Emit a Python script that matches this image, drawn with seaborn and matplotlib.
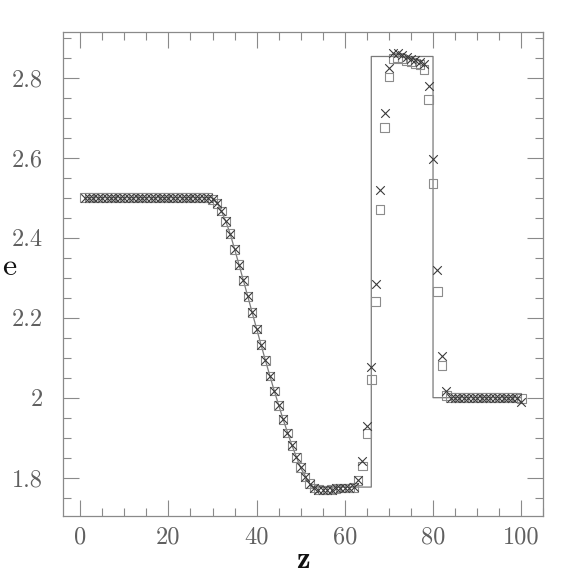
import matplotlib
matplotlib.use("Agg")
import matplotlib.pyplot as plt
import seaborn as sns
import pandas as pd
from matplotlib.ticker import MultipleLocator, FuncFormatter

# ---- data ----
z_points = list(range(1, 101))

e_cross = [
    2.5, 2.5, 2.5, 2.5, 2.5, 2.5, 2.5, 2.5, 2.5, 2.5,
    2.5, 2.5, 2.5, 2.5, 2.5, 2.5, 2.5, 2.5, 2.5, 2.5,
    2.5, 2.5, 2.5, 2.5, 2.5, 2.5, 2.5, 2.5, 2.5, 2.496,
    2.486, 2.467, 2.441, 2.41, 2.371, 2.3325, 2.293, 2.253, 2.213, 2.1715,
    2.1325, 2.093, 2.054, 2.0165, 1.981, 1.946, 1.9115, 1.881, 1.851, 1.826,
    1.8015, 1.785, 1.774, 1.770, 1.7695, 1.7695, 1.770, 1.773, 1.774, 1.774,
    1.774, 1.776, 1.795, 1.841, 1.928, 2.076, 2.283, 2.518, 2.7125, 2.823,
    2.8625, 2.8615, 2.8565, 2.8515, 2.846, 2.843, 2.840, 2.835, 2.779, 2.5975,
    2.318, 2.103, 2.016, 2.0, 2.0, 2.0, 2.0, 2.0, 2.0, 2.0,
    2.0, 2.0, 2.0, 2.0, 2.0, 2.0, 2.0, 2.0, 1.998, 1.99,
]

e_square = [
    2.5, 2.5, 2.5, 2.5, 2.5, 2.5, 2.5, 2.5, 2.5, 2.5,
    2.5, 2.5, 2.5, 2.5, 2.5, 2.5, 2.5, 2.5, 2.5, 2.5,
    2.5, 2.5, 2.5, 2.5, 2.5, 2.5, 2.5, 2.5, 2.5, 2.496,
    2.486, 2.467, 2.441, 2.41, 2.371, 2.3325, 2.293, 2.253, 2.213, 2.1715,
    2.1325, 2.093, 2.054, 2.0165, 1.981, 1.946, 1.9115, 1.881, 1.851, 1.826,
    1.8015, 1.785, 1.774, 1.770, 1.7695, 1.7695, 1.770, 1.773, 1.774, 1.774,
    1.774, 1.776, 1.793, 1.829, 1.911, 2.045, 2.241, 2.471, 2.675, 2.8015,
    2.8475, 2.85, 2.8475, 2.8415, 2.839, 2.835, 2.8325, 2.821, 2.745, 2.535,
    2.266, 2.081, 2.006, 2.0, 2.0, 2.0, 2.0, 2.0, 2.0, 2.0,
    2.0, 2.0, 2.0, 2.0, 2.0, 2.0, 2.0, 2.0, 2.0, 1.998,
]

# exact solution (solid line) vertices
z_exact = [1, 30, 31, 32, 33, 34, 36, 38, 40, 42, 44, 46, 48, 50, 52.5, 66, 66, 80, 80, 100]
e_exact = [2.5, 2.5, 2.488, 2.467, 2.441, 2.41, 2.333, 2.253, 2.172, 2.093, 2.017,
           1.946, 1.881, 1.824, 1.7765, 1.7765, 2.853, 2.853, 2.0, 2.0]

x_ticks = [0, 20, 40, 60, 80, 100]
y_ticks = [1.8, 2.0, 2.2, 2.4, 2.6, 2.8]

# ---- styling ----
sns.set_theme(style="ticks")
plt.rcParams["font.family"] = ["cmr10", "DejaVu Serif"]
plt.rcParams["axes.formatter.use_mathtext"] = True

frame = "#8a8a8a"
fig = plt.figure(figsize=(5.74, 5.74), dpi=100)
ax = fig.add_axes([0.109, 0.1016, 0.8375, 0.8432])

df_exact = pd.DataFrame({"z": z_exact, "e": e_exact})
df_pts = pd.DataFrame({"z": z_points, "cross": e_cross, "square": e_square})

sns.lineplot(data=df_exact, x="z", y="e", sort=False, estimator=None,
             color="#7a7a7a", linewidth=0.9, ax=ax)
sns.scatterplot(data=df_pts, x="z", y="square", marker="s", s=38,
                facecolor="none", edgecolor="#8c8c8c", linewidth=0.8, ax=ax, zorder=3)
sns.scatterplot(data=df_pts, x="z", y="cross", marker="x", s=38,
                color="#3a3a3a", linewidth=0.8, ax=ax, zorder=4)

ax.set_xlim(-4, 105)
ax.set_ylim(1.705, 2.915)
ax.set_xticks(x_ticks)
ax.set_yticks(y_ticks)
ax.xaxis.set_minor_locator(MultipleLocator(5))
ax.yaxis.set_minor_locator(MultipleLocator(0.05))
ax.yaxis.set_major_formatter(FuncFormatter(lambda v, p: f"{v:g}"))
ax.xaxis.set_major_formatter(FuncFormatter(lambda v, p: f"{v:g}"))

ax.tick_params(which="both", direction="in", top=True, right=True,
               color=frame, width=0.8, labelsize=17.5, labelcolor="#606060")
ax.tick_params(which="major", length=11.5)
ax.tick_params(axis="x", which="major", pad=7.5)
ax.tick_params(axis="y", which="major", pad=14)
ax.tick_params(which="minor", length=5.8)
for s in ax.spines.values():
    s.set_color(frame)
    s.set_linewidth(0.9)

ax.set_xlabel("z", fontsize=22, color="#111111", family=["cmb10", "DejaVu Serif"],
              va="center")
ax.xaxis.set_label_coords(0.5, -0.093)
ax.set_ylabel("e", fontsize=23, color="#111111", rotation=0, va="center", ha="center")
ax.yaxis.set_label_coords(-0.112, 0.514)

fig.savefig("out.png", dpi=100)
